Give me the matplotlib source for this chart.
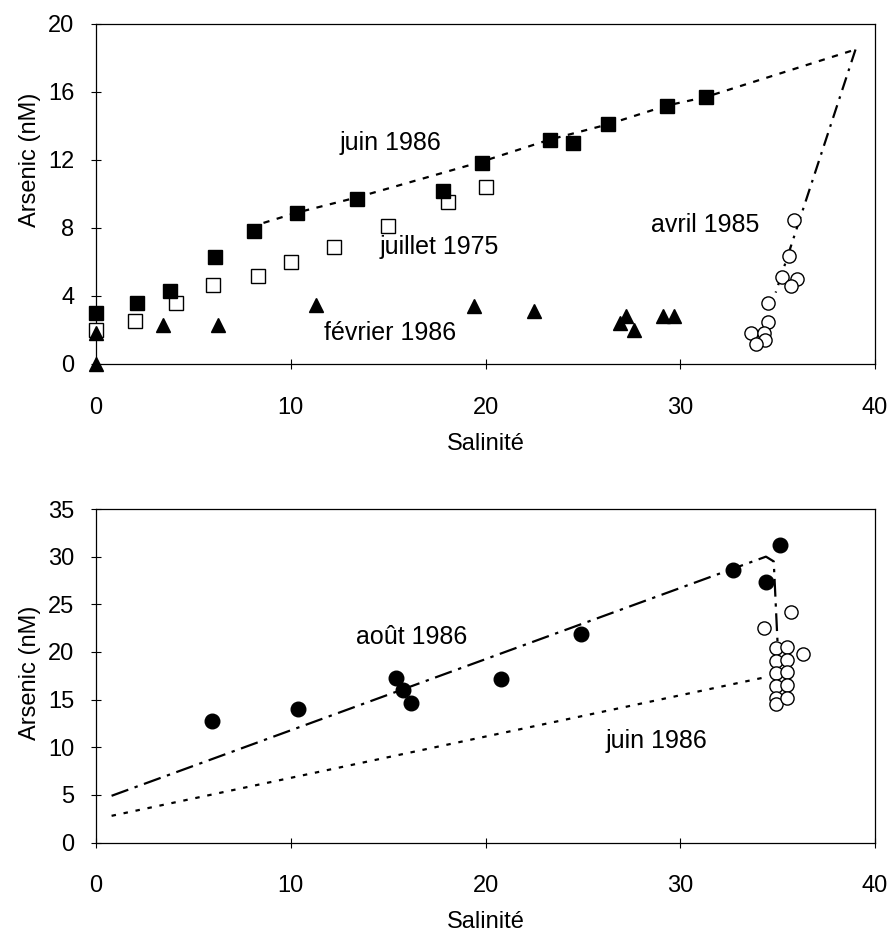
import matplotlib
matplotlib.use("Agg")
from matplotlib import pyplot as plt

plt.rcParams['font.family'] = ['Liberation Sans', 'DejaVu Sans']
plt.rcParams['font.size'] = 17

# ---- top panel data ----
juin86_S = [0.0, 2.1, 3.8, 6.1, 8.1, 10.3, 13.4, 17.8, 19.8, 23.3, 24.5, 26.3, 29.3, 31.3]
juin86_As = [3.0, 3.6, 4.3, 6.3, 7.8, 8.9, 9.7, 10.2, 11.8, 13.2, 13.0, 14.1, 15.2, 15.7]

juil75_S = [0.0, 2.0, 4.1, 6.0, 8.3, 10.0, 12.2, 15.0, 18.1, 20.0]
juil75_As = [2.0, 2.55, 3.6, 4.65, 5.2, 6.0, 6.9, 8.1, 9.5, 10.4]

fev86_S = [0.0, 0.0, 3.45, 6.25, 11.3, 19.4, 22.5, 26.9, 27.2, 27.6, 29.1, 29.7]
fev86_As = [1.8, 0.0, 2.3, 2.3, 3.5, 3.4, 3.1, 2.4, 2.8, 2.0, 2.8, 2.8]

avr85_S = [35.85, 35.6, 35.25, 36.0, 35.7, 34.5, 34.5, 33.65, 34.3, 34.35, 33.9]
avr85_As = [8.45, 6.35, 5.1, 5.0, 4.6, 3.6, 2.5, 1.8, 1.8, 1.4, 1.2]

# mixing lines (top)
juin86_line_S = [8.6, 10.3, 13.4, 19.8, 23.3, 26.3, 29.3, 31.3, 39.0]
juin86_line_As = [8.3, 8.9, 9.8, 11.9, 13.2, 14.1, 15.2, 15.7, 18.5]
avr85_line_S = [39.0, 34.9]
avr85_line_As = [18.5, 4.2]

# ---- bottom panel data ----
aout86_S = [5.95, 10.37, 15.4, 15.75, 16.2, 20.8, 24.9, 32.7, 35.1, 34.4]
aout86_As = [12.7, 14.0, 17.3, 16.0, 14.6, 17.2, 21.9, 28.6, 31.2, 27.3]

ouv_S = [35.7, 34.3, 36.3,
         34.9, 34.9, 34.9, 34.9, 34.9, 34.9,
         35.5, 35.5, 35.5, 35.5, 35.5]
ouv_As = [24.2, 22.5, 19.8,
          20.4, 19.1, 17.8, 16.4, 15.2, 14.5,
          20.5, 19.2, 17.9, 16.5, 15.2]

aout_line_S = [0.8, 34.4, 34.8, 35.0]
aout_line_As = [4.9, 30.0, 29.5, 20.8]
juin_line_S = [0.8, 34.5]
juin_line_As = [2.8, 17.4]

W, H = 893, 936
fig = plt.figure(figsize=(W / 100, H / 100), dpi=100)

def px_axes(left, top, right, bottom):
    return fig.add_axes([left / W, 1 - bottom / H, (right - left) / W, (bottom - top) / H])

def style(ax):
    for s in ax.spines.values():
        s.set_linewidth(0.9)
    ax.tick_params(direction='inout', length=7, width=0.8, pad=12,
                   top=False, right=False)
    ax.tick_params(axis='x', pad=20)
    ax.set_xlim(0, 40)
    ax.set_xticks([0, 10, 20, 30, 40])
    ax.set_xlabel('Salinité', labelpad=10)

lw = 1.6
fs_note = 18

# top panel
ax1 = px_axes(96, 24, 875, 364)
ax1.plot(juin86_line_S, juin86_line_As, color='black', lw=lw, ls=(0, (2.8, 3.4)), zorder=2)
ax1.plot(avr85_line_S, avr85_line_As, color='black', lw=lw, ls=(0, (6, 3, 1.2, 3)), zorder=2)
ax1.plot(juil75_S, juil75_As, 's', ms=10, mfc='white', mec='black', mew=1.0, zorder=3, clip_on=False)
ax1.plot(juin86_S, juin86_As, 's', ms=10, mfc='black', mec='black', zorder=4, clip_on=False)
ax1.plot(fev86_S, fev86_As, '^', ms=10.5, mfc='black', mec='black', zorder=5, clip_on=False)
ax1.plot(avr85_S, avr85_As, 'o', ms=9.5, mfc='white', mec='black', mew=1.0, zorder=3, clip_on=False)
ax1.set_ylim(0, 20)
ax1.set_yticks([0, 4, 8, 12, 16, 20])
style(ax1)
ax1.set_ylabel('Arsenic (nM)')
ax1.yaxis.set_label_coords(-0.07, 0.6)
ax1.text(15.1, 13.0, 'juin 1986', ha='center', va='center', fontsize=fs_note)
ax1.text(17.6, 6.9, 'juillet 1975', ha='center', va='center', fontsize=fs_note)
ax1.text(15.1, 1.8, 'février 1986', ha='center', va='center', fontsize=fs_note)
ax1.text(31.3, 8.2, 'avril 1985', ha='center', va='center', fontsize=fs_note)

# bottom panel
ax2 = px_axes(96, 509, 875, 842.5)
ax2.plot(aout_line_S, aout_line_As, color='black', lw=lw, ls=(0, (8, 3, 1.5, 3)), zorder=2)
ax2.plot(juin_line_S, juin_line_As, color='black', lw=lw, ls=(0, (2, 3.5)), zorder=2)
ax2.plot(aout86_S, aout86_As, 'o', ms=10.5, mfc='black', mec='black', zorder=4)
ax2.plot(ouv_S, ouv_As, 'o', ms=9.5, mfc='white', mec='black', mew=1.0, zorder=3)
ax2.set_ylim(0, 35)
ax2.set_yticks([0, 5, 10, 15, 20, 25, 30, 35])
style(ax2)
ax2.set_ylabel('Arsenic (nM)')
ax2.yaxis.set_label_coords(-0.07, 0.51)
ax2.text(16.2, 21.6, 'août 1986', ha='center', va='center', fontsize=fs_note)
ax2.text(28.8, 10.7, 'juin 1986', ha='center', va='center', fontsize=fs_note)

fig.savefig('out.png', dpi=100)
